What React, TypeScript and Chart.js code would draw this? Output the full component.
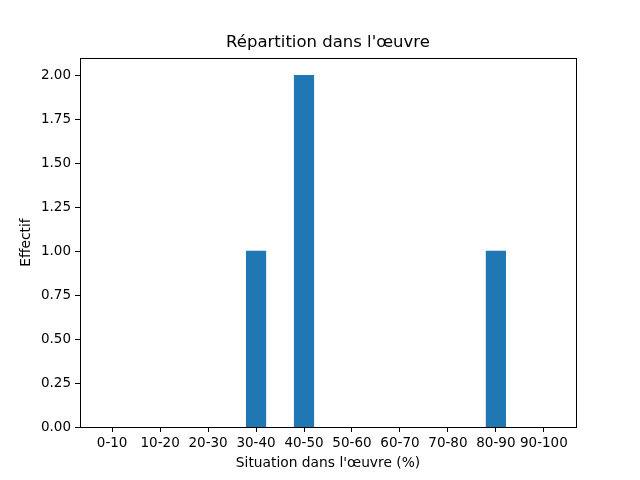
import React, { useEffect, useRef } from "react";
import { Chart, registerables } from "chart.js";

Chart.register(...registerables);

const categories = ["0-10", "10-20", "20-30", "30-40", "40-50", "50-60", "60-70", "70-80", "80-90", "90-100"];
const counts = [0, 0, 0, 1, 2, 0, 0, 0, 1, 0];
const yTicks = [0, 0.25, 0.5, 0.75, 1, 1.25, 1.5, 1.75, 2];
const titleText = "Répartition dans l'œuvre";

const FONT = "'DejaVu Sans', sans-serif";

const framePlugin = {
  id: "frame",
  afterDraw(chart: any) {
    const { ctx, chartArea } = chart;
    ctx.save();
    ctx.strokeStyle = "#000";
    ctx.lineWidth = 1;
    ctx.strokeRect(
      Math.round(chartArea.left) + 0.5,
      Math.round(chartArea.top) + 0.5,
      Math.round(chartArea.right - chartArea.left),
      Math.round(chartArea.bottom - chartArea.top)
    );
    ctx.fillStyle = "#000";
    ctx.font = `16.5px ${FONT}`;
    ctx.textAlign = "center";
    ctx.textBaseline = "middle";
    ctx.fillText(titleText, (chartArea.left + chartArea.right) / 2, 43);
    ctx.restore();
  },
};

export default function App() {
  const ref = useRef<HTMLCanvasElement>(null);
  useEffect(() => {
    if (!ref.current) return;
    const chart = new Chart(ref.current, {
      type: "bar",
      data: {
        datasets: [
          {
            data: counts.map((v, i) => ({ x: i, y: v })),
            backgroundColor: "#1f77b4",
            borderColor: "#1f77b4",
            borderWidth: 0,
            inflateAmount: (c: any) => (c.raw && c.raw.y > 0 ? 0.5 : 0),
            barPercentage: 0.4,
            categoryPercentage: 1,
          },
        ],
      },
      options: {
        animation: false,
        responsive: false,
        maintainAspectRatio: false,
        layout: { padding: { left: 0, right: 64, top: 58, bottom: 0 } },
        plugins: {
          legend: { display: false },
          tooltip: { enabled: false },
          title: { display: false },
        },
        scales: {
          x: {
            type: "linear",
            min: -0.67,
            max: 9.67,
            offset: false,
            afterFit: (s: any) => {
              s.height = 53;
            },
            afterBuildTicks: (s: any) => {
              s.ticks = categories.map((_, i) => ({ value: i }));
            },
            ticks: {
              callback: (v: any) => categories[v as number] ?? "",
              color: "#000",
              font: { family: FONT, size: 13.5 },
              padding: 3,
              maxRotation: 0,
              autoSkip: false,
            },
            grid: { drawOnChartArea: false, offset: false, tickLength: 5, tickColor: "#000" },
            border: { display: false },
            title: {
              display: true,
              text: "Situation dans l'œuvre (%)",
              color: "#000",
              font: { family: FONT, size: 13.8 },
              padding: { top: 0, bottom: 8.5 },
            },
          },
          y: {
            type: "linear",
            min: 0,
            max: 2.1,
            afterFit: (s: any) => {
              s.width = 80;
            },
            afterBuildTicks: (s: any) => {
              s.ticks = yTicks.map((v) => ({ value: v }));
            },
            ticks: {
              callback: (v: any) => Number(v).toFixed(2),
              color: "#000",
              font: { family: FONT, size: 13.5 },
              padding: 4,
            },
            grid: { drawOnChartArea: false, tickLength: 5, tickColor: "#000" },
            border: { display: false },
            title: {
              display: true,
              text: "Effectif",
              color: "#000",
              font: { family: FONT, size: 13.8 },
              padding: { top: 18.5, bottom: 0 },
            },
          },
        },
      },
      plugins: [framePlugin],
    });
    return () => chart.destroy();
  }, []);
  return (
    <div style={{ position: "fixed", left: 0, top: 0, width: 640, height: 480, background: "#fff" }}>
      <canvas ref={ref} width={640} height={480} style={{ display: "block" }} />
    </div>
  );
}
